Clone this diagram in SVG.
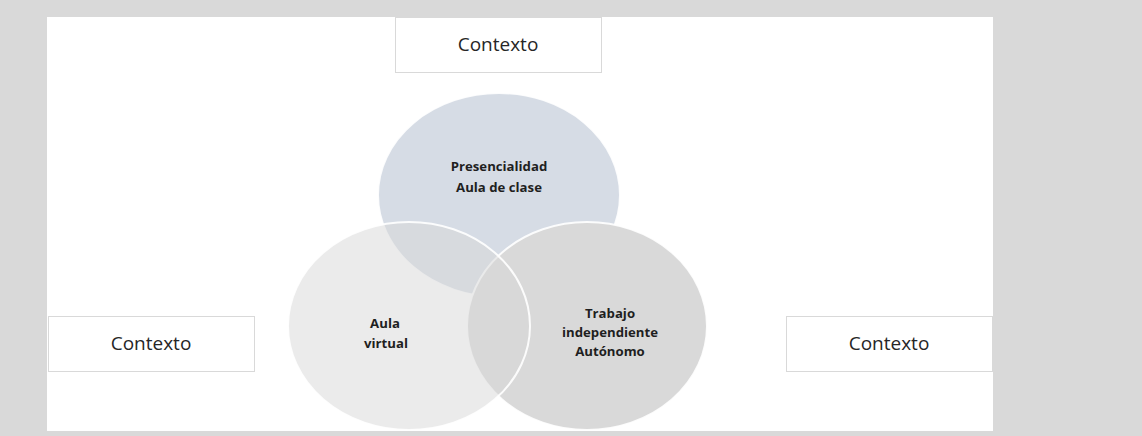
<svg xmlns="http://www.w3.org/2000/svg" width="1142" height="436" viewBox="0 0 1142 436">
<style>
.box{fill:#ffffff;stroke:#d9d9d9;stroke-width:1}
.ctx{font-family:"Open Sans","Liberation Sans",sans-serif;font-size:19px;fill:#262626;text-anchor:middle}
.lbl{font-family:"Open Sans","Liberation Sans",sans-serif;font-size:13.2px;font-weight:bold;fill:#1f1f1f;text-anchor:middle}
.ring{stroke:#ffffff;stroke-width:2;stroke-opacity:0.9}
</style>
<rect x="0" y="0" width="1142" height="436" fill="#d9d9d9"/>
<rect x="47" y="17" width="946" height="414" fill="#ffffff"/>
<g id="circle-presencialidad">
<ellipse class="ring" cx="499" cy="195" rx="121" ry="102" fill="#d6dce5"/>
</g>
<g id="circle-trabajo">
<ellipse class="ring" cx="587" cy="326" rx="120" ry="104" fill="#d9d9d9"/>
</g>
<g id="circle-aula-virtual">
<ellipse class="ring" cx="409" cy="326" rx="121" ry="104" fill="#d7d7d7" fill-opacity="0.51"/>
</g>
<g id="labels">
<text class="lbl" x="499" y="171">Presencialidad</text>
<text class="lbl" x="499" y="192">Aula de clase</text>
<text class="lbl" x="385" y="328">Aula</text>
<text class="lbl" x="386" y="348">virtual</text>
<text class="lbl" x="610" y="318">Trabajo</text>
<text class="lbl" x="610" y="336.5">independiente</text>
<text class="lbl" x="610" y="356">Autónomo</text>
</g>
<g id="context-top">
<rect class="box" x="395.5" y="17.5" width="206" height="55"/>
<text class="ctx" x="498" y="51">Contexto</text>
</g>
<g id="context-left">
<rect class="box" x="48.5" y="316.5" width="206" height="55"/>
<text class="ctx" x="151" y="350">Contexto</text>
</g>
<g id="context-right">
<rect class="box" x="786.5" y="316.5" width="206" height="55"/>
<text class="ctx" x="889" y="350">Contexto</text>
</g>
<g id="connectors"></g>
</svg>
